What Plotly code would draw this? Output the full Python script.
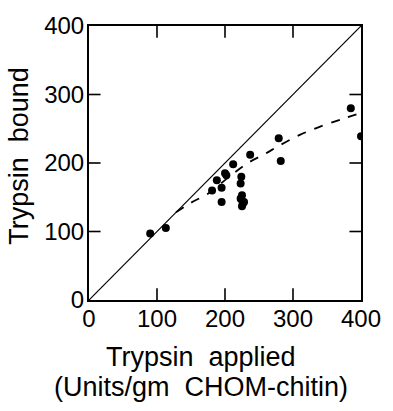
import plotly.graph_objects as go

# Data points (Trypsin applied vs Trypsin bound)
applied = [90, 113, 181, 188, 195, 195, 200, 202, 212, 224, 223, 225, 224, 228, 225, 223, 226, 237, 279, 282, 385, 400]
bound   = [97, 105, 160, 175, 164, 143, 185, 182, 198, 180, 170, 153, 147, 143, 137, 148, 140, 212, 236, 203, 280, 239]

# Dashed fitted curve
curve_x = [128, 150, 176, 200, 232, 260, 279, 310, 345, 375, 400]
curve_y = [128, 142, 156, 175, 199, 214, 225, 241, 255, 265, 273]

# Identity line
ident_x = [0, 400]
ident_y = [0, 400]

ticks = [0, 100, 200, 300, 400]
AX_MIN, AX_MAX = 0, 400

FONT = "Liberation Sans, Arial, sans-serif"
TICK_LEN = 17  # tick length in axis units (inside ticks)

fig = go.Figure()

# inside tick marks on all four sides, built from the tick values
tx, ty = [], []
for t in ticks[1:-1]:
    tx += [t, t, None, t, t, None, AX_MIN, AX_MIN + TICK_LEN, None, AX_MAX, AX_MAX - TICK_LEN, None]
    ty += [AX_MIN, AX_MIN + TICK_LEN, None, AX_MAX, AX_MAX - TICK_LEN, None, t, t, None, t, t, None]
fig.add_trace(go.Scatter(x=tx, y=ty, mode="lines", line=dict(color="black", width=1.6),
                         hoverinfo="skip", showlegend=False, cliponaxis=False))

fig.add_trace(go.Scatter(x=ident_x, y=ident_y, mode="lines",
                         line=dict(color="black", width=1.2), showlegend=False))
fig.add_trace(go.Scatter(x=curve_x, y=curve_y, mode="lines",
                         line=dict(color="black", width=1.8, dash="dash", shape="spline"),
                         showlegend=False))
fig.add_trace(go.Scatter(x=applied, y=bound, mode="markers",
                         marker=dict(color="black", size=8), showlegend=False))

axis_common = dict(range=[AX_MIN, AX_MAX], tickmode="array", tickvals=ticks,
                   ticks="", showgrid=False, zeroline=False,
                   showline=True, linecolor="black", linewidth=2, mirror=True,
                   tickfont=dict(family=FONT, size=24, color="black"))

fig.update_xaxes(**axis_common, ticklabelstandoff=-4)
fig.update_yaxes(**axis_common, ticklabelstandoff=-2)

fig.add_annotation(text="Trypsin  bound", xref="paper", yref="paper",
                   x=-0.255, y=0.525, xanchor="center", yanchor="middle", showarrow=False,
                   textangle=-90, font=dict(family=FONT, size=27, color="black"))
fig.add_annotation(text="Trypsin  applied", xref="paper", yref="paper",
                   x=0.413, y=-0.207, xanchor="center", yanchor="middle", showarrow=False,
                   font=dict(family=FONT, size=27, color="black"))
fig.add_annotation(text="(Units/gm  CHOM-chitin)", xref="paper", yref="paper",
                   x=0.413, y=-0.318, xanchor="center", yanchor="middle", showarrow=False,
                   font=dict(family=FONT, size=27, color="black"))

fig.update_layout(width=393, height=411, margin=dict(l=89, r=21, t=18, b=111),
                  plot_bgcolor="white", paper_bgcolor="white")

fig.write_html("out.html")
